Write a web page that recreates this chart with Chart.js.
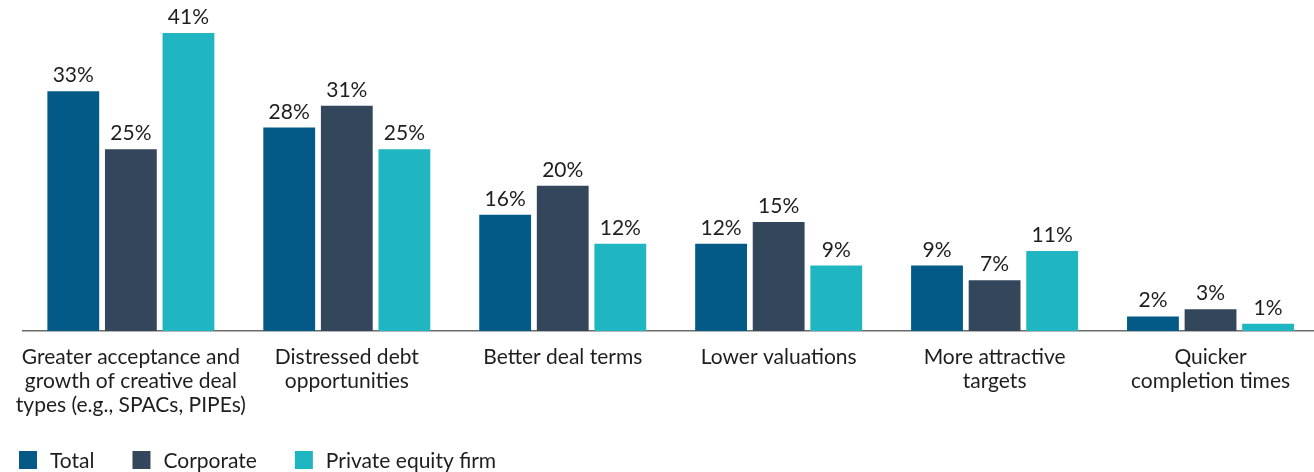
<!DOCTYPE html>
<html>
<head>
<meta charset="utf-8">
<script src="https://cdn.jsdelivr.net/npm/chart.js@4"></script>
<style>
  html, body { margin: 0; padding: 0; background: #fff; overflow: hidden; }
  #wrap { width: 1320px; height: 472px; position: relative; }
</style>
</head>
<body>
<div id="wrap"><canvas id="myChart"></canvas></div>
<script>
const labels = [
    ['Greater acceptance and', 'growth of creative deal', 'types (e.g., SPACs, PIPEs)'],
    ['Distressed debt', 'opportunities'],
    'Better deal terms',
    'Lower valuations',
    ['More attractive', 'targets'],
    ['Quicker', 'completion times'],
];

const seriesNames = ['Total', 'Corporate', 'Private equity firm'];
const total = [33, 28, 16, 12, 9, 2];
const corporate = [25, 31, 20, 15, 7, 3];
const privateEquity = [41, 25, 12, 9, 11, 1];

const colors = ['#035a87', '#34465b', '#1fb5c1'];
const FONT = 'Lato, "Noto Sans", sans-serif';

// value labels above each bar
const barLabels = {
    id: 'barLabels',
    afterDatasetsDraw(chart) {
        const ctx = chart.ctx;
        ctx.save();
        ctx.font = '21px ' + FONT;
        ctx.fillStyle = '#1e1e1e';
        ctx.textAlign = 'center';
        ctx.textBaseline = 'alphabetic';
        chart.data.datasets.forEach((ds, i) => {
            chart.getDatasetMeta(i).data.forEach((bar, j) => {
                ctx.fillText(ds.data[j] + '%', bar.x, bar.y - 9);
            });
        });
        ctx.restore();
    }
};

// legend drawn at bottom left
const bottomLegend = {
    id: 'bottomLegend',
    afterDraw(chart) {
        const ctx = chart.ctx;
        ctx.save();
        ctx.font = '21px ' + FONT;
        ctx.textBaseline = 'middle';
        let x = 19;
        const y = 451;
        chart.data.datasets.forEach(ds => {
            ctx.fillStyle = ds.backgroundColor;
            ctx.fillRect(x, y, 18, 18);
            ctx.fillStyle = '#1e1e1e';
            ctx.fillText(ds.label, x + 31, y + 10);
            x += 31 + ctx.measureText(ds.label).width + 38;
        });
        ctx.restore();
    }
};

const data = {
    labels: labels,
    datasets: [
        { label: seriesNames[0], data: total, backgroundColor: colors[0] },
        { label: seriesNames[1], data: corporate, backgroundColor: colors[1] },
        { label: seriesNames[2], data: privateEquity, backgroundColor: colors[2] },
    ]
};

const config = {
    type: 'bar',
    data,
    options: {
        responsive: true,
        maintainAspectRatio: false,
        animation: false,
        layout: { padding: { left: 22, right: 1.5, top: 4, bottom: 41 } },
        datasets: { bar: { categoryPercentage: 0.8, barPercentage: 0.9 } },
        plugins: {
            legend: { display: false },
            tooltip: { enabled: false },
        },
        scales: {
            x: {
                grid: { display: false, drawTicks: false },
                border: { display: true, color: '#6b6b6b', width: 1.5 },
                ticks: {
                    color: '#1e1e1e',
                    padding: 14,
                    maxRotation: 0,
                    autoSkip: false,
                    font: { family: FONT, size: 21, lineHeight: 1.143 },
                },
            },
            y: {
                display: false,
                min: 0,
                max: 45,
            },
        },
    },
    plugins: [barLabels, bottomLegend],
};

var myChart = new Chart(document.getElementById('myChart'), config);
</script>
</body>
</html>
